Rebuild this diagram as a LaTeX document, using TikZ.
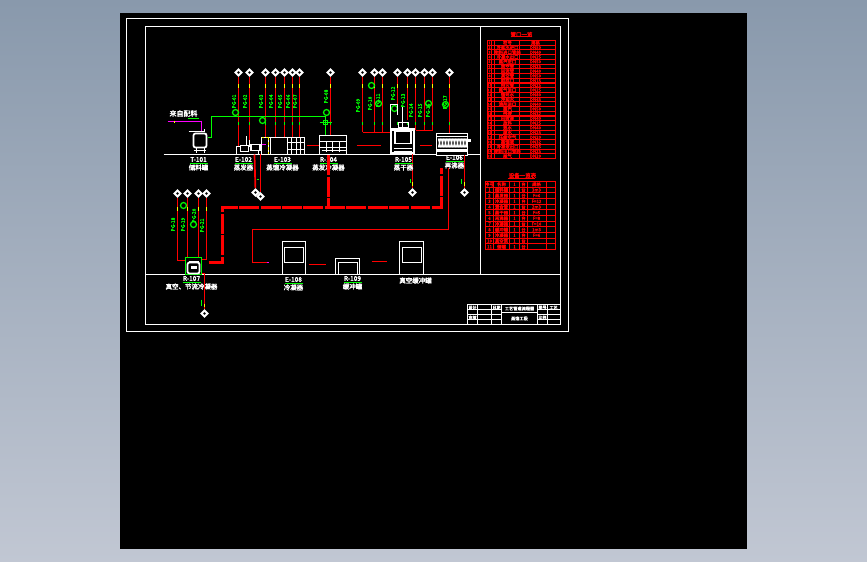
\documentclass[tikz,border=0pt]{standalone}
\usepackage{fontspec}
\setmainfont{Noto Sans CJK SC}
\newfontfamily\heavyfont[FakeBold=2.5]{Noto Sans CJK SC}
\usetikzlibrary{shapes.geometric}
\definecolor{pipered}{RGB}{255,0,0}
\definecolor{tagreen}{RGB}{0,255,0}
\definecolor{tickyel}{RGB}{255,255,0}
\definecolor{linkmag}{RGB}{255,0,255}
\definecolor{skytop}{RGB}{137,153,172}
\definecolor{skybot}{RGB}{193,199,211}
\tikzset{
  frameline/.style={draw=white,line width=1.1pt},
  valve/.style={diamond,draw=white,fill=black,line width=2pt,inner sep=0pt,minimum size=7pt},
  pipe/.style={draw=pipered,line width=1.7pt},
  mainpipe/.style={draw=pipered,line width=2.8pt,dash pattern=on 20pt off 1.5pt},
  tagline/.style={draw=tagreen,line width=1.5pt},
  yeltick/.style={draw=tickyel,line width=1.6pt},
  tagtext/.style={text=tagreen,font=\heavyfont\fontsize{5}{5}\selectfont,inner sep=0pt},
  bubble/.style={circle,draw=tagreen,line width=1.2pt,inner sep=0pt,minimum size=6pt},
  eqtag/.style={text=white,font=\heavyfont\fontsize{6.5}{6.5}\selectfont,inner sep=0pt},
  vessel/.style={rectangle,draw=white,line width=1.1pt,fill=black,inner sep=0pt},
  gridline/.style={draw=pipered,line width=1.1pt},
  cell/.style={text=pipered,font=\heavyfont\fontsize{4.4}{4.4}\selectfont,inner sep=0pt},
}
\begin{document}
\begin{tikzpicture}[x=1bp,y=-1bp]
\useasboundingbox (-0.5,-0.5) rectangle (866.5,561.5);
\shade[top color=skytop,bottom color=skybot] (-0.5,-0.5) rectangle (866.5,561.5);
\fill[black] (119.5,12.5) rectangle (746.5,548.5);
\draw[frameline] (126,18) rectangle (568,331);
\draw[frameline] (145,26) rectangle (560,324);
\draw[frameline] (480,26) -- (480,274);
\draw[frameline] (145,274) -- (560,274);
\draw[frameline] (163,154) -- (480,154);
% top headers
\foreach \vn/\x/\yend/\txt/\ty in {a/238/148/PG-01/101,b/249/143/PG-02/101,c/265/137/PG-03/101,
  d/275/137/PG-04/101,e/284/137/PG-05/101,f/292/137/PG-06/101,g/299/137/PG-07/101,h/330/135/PG-08/96,
  i/362/132/PG-09/105,j/374/132/PG-10/103,k/382/132/PG-11/100,l/397/113/PG-12/93,m/407/120/PG-13/100,
  n/415/130/PG-14/110,o/424/130/PG-15/110,p/432/130/PG-16/110,q/449/133/PG-17/102}{
  \node[valve] (\vn) at (\x,72) {};
  \coordinate (\vn e) at (\x,\yend);
  \draw[pipe] (\vn) -- (\vn e);
  \draw[yeltick] (\x,84) -- (\x,88);
  \draw[tagline] (\x,122) -- (\x,125);
  \node[tagtext,rotate=90] at (\x-4.5,\ty) {\txt};
}
\draw[pipe] (ie) -- (390,132);
\draw[pipe] (ne) -- (pe);
\foreach \x/\y in {235/112,262/120,326/112,371/85,378/103,394/108,428/103,445/104}{
  \node[bubble] at (\x,\y) {};
}
% tank and feed
\node[text=white,font=\heavyfont\fontsize{7}{7}\selectfont,inner sep=0pt] (feed) at (183,113) {来自配料};
\coordinate (feedend) at (167,121);
\coordinate (feedin) at (201,131);
\draw[draw=linkmag,line width=1.6pt] (feedend) -- (201,121) -- (feedin);
\draw[tagline] (187,118) -- (198,118);
\draw[yeltick] (174,121) -- (174,123);
\node[vessel,rounded corners=2pt,minimum width=13bp,minimum height=14bp,line width=1.8pt] (t101) at (199.5,140) {};
\draw[white,line width=1.2pt] (188,131) -- (204,131) (204,129) -- (204,132);
\draw[white,line width=1.6pt] (196,148) -- (196,153) (204,148) -- (204,153) (193,150) -- (205,150);
\coordinate (t101out) at (207,137);
\draw[tagline] (t101out) -- (211,137) -- (211,116) -- (325,116) -- (325,135);
\draw[tagline] (319,122) -- (331,122);
\node[draw=tagreen,line width=1.2pt,inner sep=0pt,minimum size=4pt] (fcv) at (325,122) {};
% mixers
\node[vessel,minimum width=22bp,minimum height=8bp] (e102) at (247,150) {};
\node[vessel,minimum width=8bp,minimum height=6bp] (e102b) at (244,148) {};
\draw[white,line width=1.1pt] (246,136) -- (246,146) (249,140) -- (249,146);
\node[vessel,minimum width=9bp,minimum height=6bp] at (255,147) {};
\node[vessel,minimum width=43bp,minimum height=17bp] (e103) at (282.5,145.5) {};
\foreach \x in {268,270,287,291,296,300}{\draw[white,line width=1pt] (\x,137) -- (\x,154);}
\draw[white,line width=1pt] (287,142) -- (304,142) (287,149) -- (304,149);
\draw[draw=tickyel,line width=1.3pt,densely dashed] (268,137) -- (268,154) (261,137) -- (270,137);
\draw[draw=linkmag,line width=1.3pt] (261,144) -- (265,144);
\draw[pipe] (306,145) -- (320,145);
\coordinate (h1) at (254,154);
\coordinate (h2) at (260,154);
\node[valve] (v254) at (255,192) {};
\node[valve] (v260) at (260,196) {};
\draw[pipe] (h1) -- (v254);
\draw[pipe] (h2) -- (v260);
\draw[tagline] (256,179) -- (258,179);
\node[vessel,minimum width=27bp,minimum height=19bp] (r104) at (332.5,144.5) {};
\foreach \y in {141,147}{\draw[white,line width=0.9pt] (319,\y) -- (346,\y);}
\foreach \x in {326,332,339}{\draw[white,line width=1.5pt] (\x,141) -- (\x,152);}
\draw[white,line width=2pt] (321,150) -- (345,150);
\draw[pipe] (356,145) -- (380,145);
% main reactor
\node[vessel,minimum width=23bp,minimum height=24bp,line width=2.6pt] (r105) at (402,141) {};
\node[vessel,minimum width=16bp,minimum height=12bp,line width=2pt] (r105in) at (402,137) {};
\draw[white,line width=1.4pt] (393,148) -- (411,148) (393,151) -- (411,151);
\draw[white,line width=1.2pt] (390,128) -- (390,104) -- (397,104) -- (397,115);
\draw[white,line width=1.2pt] (402,107) -- (402,127) (398,122) rectangle (408,127);
\draw[pipe] (419,145) -- (431,145);
\coordinate (r105out) at (412,154);
\node[valve] (v412) at (412,192) {};
\draw[pipe] (r105out) -- (v412);
\draw[tagline] (410,179) -- (410,183);
\draw[yeltick] (412,182) -- (412,186);
% reboiler
\node[vessel,minimum width=31bp,minimum height=22bp] (e106) at (451.5,144) {};
\draw[white,line width=1.4pt] (436,136) -- (467,136);
\draw[white,line width=3pt] (436,150) -- (467,150);
\foreach \x in {438,441,...,465}{\draw[white,line width=1.4pt] (\x,138) -- (\x+2,147) (\x+2,138) -- (\x,147);}
\draw[white,line width=3pt] (467,140) -- (470,140);
\coordinate (e106out) at (464,155);
\node[valve] (v464) at (464,192) {};
\draw[pipe] (e106out) -- (v464);
\draw[tagline] (461,179) -- (461,184);
\draw[yeltick] (464,182) -- (464,186);
% equipment tags
\foreach \x/\y/\a/\b in {198/159/T-101/储料罐,243/159/E-102/蒸发器,282/159/E-103/蒸馏冷凝器,328/159/R-104/蒸发冷凝器,
  403/159/R-105/蒸干器,454/157/E-106/再沸器,191/278/R-107/真空、节流冷凝器,293/279/E-108/冷凝器,352/278/R-109/缓冲罐}{
  \node[eqtag] at (\x,\y) {\a};
  \draw[tagline] (\x-9,\y+4) -- (\x+9,\y+4);
  \node[eqtag] at (\x,\y+8) {\b};
}
% bottom headers
\foreach \vn/\x/\yend/\txt/\ty in {r/177/260/PG-18/224,s/187/257/PG-19/224,t/198/257/PG-20/215,u/206/259/PG-21/225}{
  \node[valve] (\vn) at (\x,193) {};
  \coordinate (\vn e) at (\x,\yend);
  \draw[pipe] (\vn) -- (\vn e);
  \draw[yeltick] (\x,207) -- (\x,211);
  \node[tagtext,rotate=90] at (\x-4.5,\ty) {\txt};
}
\node[bubble] at (183,205) {};
\node[bubble] at (193,224) {};
\draw[pipe] (re) -- (185,260);
\draw[pipe] (ue) -- (201,259);
\node[draw=tagreen,line width=1.2pt,fill=black,inner sep=0pt,minimum width=16bp,minimum height=17bp] (r107) at (193,265.5) {};
\draw[white,line width=1.8pt,rounded corners=2pt] (187,273) rectangle (199,262);
\fill[white] (190,265) rectangle (196,268);
\draw[white,line width=1pt] (188,261) -- (198,261);
\coordinate (r107out) at (204,273);
\node[valve] (v313) at (204,313) {};
\draw[pipe] (201,273) -- (r107out) -- (v313);
\draw[tagline] (201,299) -- (201,305);
\draw[yeltick] (204,303) -- (204,306);
% return lines
\draw[mainpipe] (208,262) -- (222,262) -- (222,207) -- (441,207) -- (441,168);
\draw[mainpipe] (328,155) -- (328,207);
\draw[pipe] (268,262) -- (252,262) -- (252,229) -- (448,229) -- (448,168);
\draw[draw=linkmag,line width=1.8pt] (266,262) -- (268,262);
% vessels
\node[vessel,minimum width=23bp,minimum height=33bp] (e108) at (293.5,257.5) {};
\node[vessel,minimum width=19bp,minimum height=15bp] (e108in) at (293.5,254.5) {};
\node[vessel,minimum width=24bp,minimum height=16bp] (r109) at (347,266) {};
\draw[white,line width=1.1pt] (338,274) -- (338,262) -- (357,262) -- (357,274);
\node[vessel,minimum width=24bp,minimum height=33bp] (v110) at (411,257.5) {};
\node[vessel,minimum width=19bp,minimum height=15bp] (v110in) at (411.5,254.5) {};
\draw[pipe] (308,264) -- (325,264);
\draw[pipe] (371,261) -- (386,261);
\node[eqtag] (v110tag) at (415,280) {真空缓冲罐};
% nozzle table
\node[cell,font=\heavyfont\fontsize{5.5}{5.5}\selectfont] (tabA) at (521,34) {管口一览};
\draw[pipe,line width=1.8pt] (510,36) -- (531,36);
\draw[gridline] (487,40) rectangle (555,158);
\foreach \x in {491,494,519}{\draw[gridline] (\x,40) -- (\x,158);}
\foreach \r/\nm/\sp in {1/符号/规格,2/冷却水进口/DN50,3/物料进口管线/DN40,4/冷凝水出口/DN25,5/蒸汽进口/DN50,6/放空管/DN25,7/回流管/DN40,
  8/真空管/DN50,9/取样口/DN15,10/排污管/DN25,11/氮气进口/DN25,12/循环水/DN80,13/冷却水/DN65,14/溶剂进口/DN40,15/蒸汽/DN50,16/残液/DN32,
  17/回收液/DN40,18/放料/DN25,19/热水/DN40,20/废水/DN25,21/压缩空气/DN20,22/蒸馏液/DN32,23/冷凝液出口/DN25,24/物料出口管线/DN25,25/尾气/DN20}{
  \pgfmathsetmacro{\rowy}{40+(\r-1)*4.72}
  \pgfmathsetmacro{\rowm}{\rowy+2.36}
  \draw[gridline] (487,\rowy) -- (555,\rowy);
  \node[cell,font=\heavyfont\fontsize{3.5}{3.5}\selectfont] at (489,\rowm) {\r};
  \node[cell] at (507,\rowm) {\nm};
  \node[cell] at (535,\rowm) {\sp};
}
% equipment table
\node[cell,font=\heavyfont\fontsize{5.5}{5.5}\selectfont] (tabB) at (522,175) {设备一览表};
\draw[gridline] (507,178) -- (534,178);
\draw[gridline] (485,181) rectangle (555,249);
\foreach \x in {493,509,519,527,546}{\draw[gridline] (\x,181) -- (\x,249);}
\foreach \r/\no/\nm/\sp in {1/序号/名称/规格,2/1/储料罐/3m3,3/2/蒸发器/F=6,4/3/冷凝器/F=12,5/4/混合釜/2m3,6/5/蒸干器/F=5,7/6/再沸器/F=8,
  8/7/冷凝器/F=10,9/8/缓冲罐/1m3,10/9/冷凝器/F=6,11/10/真空泵/,12/11/储罐/}{
  \pgfmathsetmacro{\rowy}{181+(\r-1)*5.67}
  \pgfmathsetmacro{\rowm}{\rowy+2.83}
  \draw[gridline] (485,\rowy) -- (555,\rowy);
  \node[cell] at (489,\rowm) {\no};
  \node[cell] at (501,\rowm) {\nm};
  \node[cell] at (514,\rowm) {1};
  \node[cell] at (523,\rowm) {台};
  \node[cell] at (536,\rowm) {\sp};
}
% title block
\draw[frameline,line width=1pt] (467,304) rectangle (560,324);
\foreach \x in {477,491,501,537,547}{\draw[white,line width=0.9pt] (\x,304) -- (\x,324);}
\foreach \y in {309,314,319}{
  \draw[white,line width=0.9pt] (467,\y) -- (501,\y);
  \draw[white,line width=0.9pt] (537,\y) -- (560,\y);
}
\draw[white,line width=0.9pt] (501,312) -- (537,312);
\node[eqtag,font=\heavyfont\fontsize{4.2}{4.2}\selectfont] (dwgA) at (519,308) {工艺管道流程图};
\node[eqtag,font=\heavyfont\fontsize{4.2}{4.2}\selectfont] (dwgB) at (519,318) {蒸馏工段};
\node[eqtag,font=\heavyfont\fontsize{4}{4}\selectfont] at (472,307) {设计};
\node[eqtag,font=\heavyfont\fontsize{4}{4}\selectfont] at (472,317) {审核};
\node[eqtag,font=\heavyfont\fontsize{4}{4}\selectfont] at (496,307) {日期};
\node[eqtag,font=\heavyfont\fontsize{4}{4}\selectfont] at (542,307) {图号};
\node[eqtag,font=\heavyfont\fontsize{4}{4}\selectfont] at (542,317) {比例};
\node[eqtag,font=\heavyfont\fontsize{4}{4}\selectfont] at (553,307) {工艺};
\end{tikzpicture}
\end{document}
